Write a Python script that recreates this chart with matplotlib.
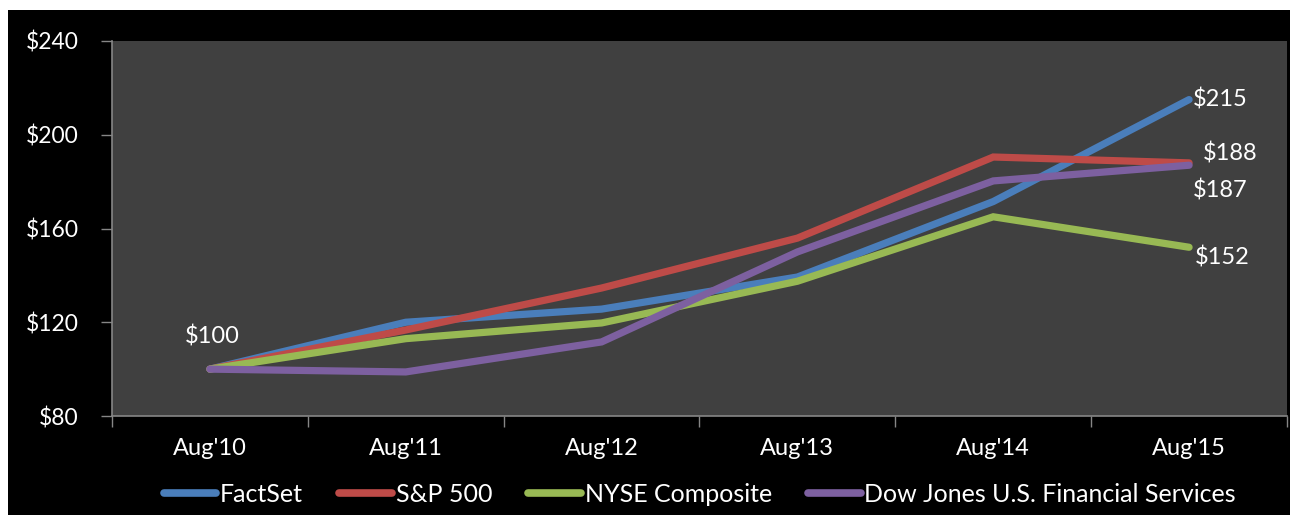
import matplotlib.pyplot as plt
from matplotlib import patches
from matplotlib.ticker import FixedLocator

plt.rcParams['font.family'] = ['Lato', 'DejaVu Sans']

years = ["Aug'10", "Aug'11", "Aug'12", "Aug'13", "Aug'14", "Aug'15"]
factset = [100, 120, 125.6, 139.3, 171.5, 215]
sp500 = [100, 116.7, 134.6, 155.9, 190.5, 188]
nyse = [100, 113, 119.7, 137.5, 165, 152]
djfs = [100, 98.8, 111.6, 150, 180.3, 187]

series = [
    ('FactSet', factset, '#4A7EBB'),
    ('S&P 500', sp500, '#BE4B48'),
    ('NYSE Composite', nyse, '#98B954'),
    ('Dow Jones U.S. Financial Services', djfs, '#7D60A0'),
]

W, H = 1295, 515
fig = plt.figure(figsize=(W / 100, H / 100), dpi=100)
fig.patch.set_facecolor('white')
bg = patches.Rectangle((8 / W, 0), (1290 - 8) / W, (H - 10) / H,
                       transform=fig.transFigure, facecolor='black',
                       edgecolor='none', zorder=-10)
fig.add_artist(bg)

ax = fig.add_axes([112 / W, (H - 416) / H, (1287 - 112) / W, (416 - 41) / H])
ax.set_facecolor('#404040')

x = list(range(len(years)))
for name, vals, color in series:
    ax.plot(x, vals, color=color, lw=5.2, solid_capstyle='round',
            solid_joinstyle='miter', label=name)

ax.set_xlim(-0.5, 5.5)
ax.set_ylim(80, 240)
ax.set_yticks([80, 120, 160, 200, 240])
ax.set_yticklabels(['$80', '$120', '$160', '$200', '$240'])
ax.set_xticks(x)
ax.set_xticklabels(years)
ax.xaxis.set_minor_locator(FixedLocator([i - 0.5 for i in range(7)]))

ax.tick_params(axis='x', which='major', length=0, pad=16, colors='white', labelsize=17)
ax.tick_params(axis='x', which='minor', length=8, width=1, color='#868686', direction='out')
ax.tick_params(axis='y', length=8, width=1, pad=16, colors='white', labelsize=16.5)
ax.tick_params(axis='y', color='#868686')

for side in ['top', 'right']:
    ax.spines[side].set_visible(False)
for side in ['left', 'bottom']:
    ax.spines[side].set_color('#868686')
    ax.spines[side].set_linewidth(1.2)

lbl = dict(color='white', fontsize=17, va='center')
ax.text(0.01, 114, '$100', ha='center', **lbl)
ax.text(5.02, 215.2, '$215', ha='left', **lbl)
ax.text(5.07, 192.2, '$188', ha='left', **lbl)
ax.text(5.02, 176.4, '$187', ha='left', **lbl)
ax.text(5.03, 147.8, '$152', ha='left', **lbl)

leg = ax.legend(loc='center', bbox_to_anchor=(700 / W, 21 / H),
                bbox_transform=fig.transFigure, ncol=4, frameon=False,
                handlelength=2.1, handletextpad=0.15, columnspacing=1.45,
                fontsize=18, labelcolor='white')
for line in leg.get_lines():
    line.set_linewidth(5.5)
    line.set_solid_capstyle('round')

fig.savefig('out.png', dpi=100, facecolor=fig.get_facecolor())
